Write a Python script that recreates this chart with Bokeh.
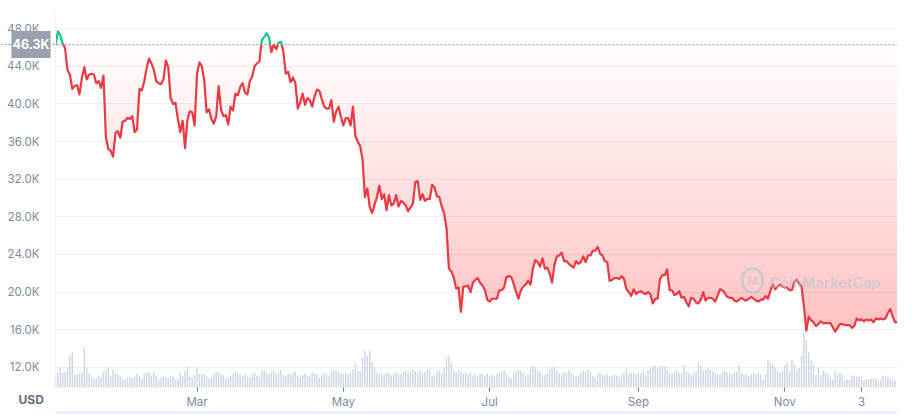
import numpy as np
import pandas as pd
from bokeh.plotting import figure
from bokeh.models import Range1d, FixedTicker, Span, Label, BoxAnnotation
from bokeh.embed import file_html
from bokeh.resources import INLINE

# ---------------- data ----------------
start_date = "2022-01-01"
open_price = 46.3  # K USD, first point = baseline
price_jan = [47.7, 47.3, 46.4, 45.9, 43.6, 43.1, 41.6, 41.9, 42.0, 41.0, 42.7, 43.9, 42.6, 43.1, 43.2, 43.1,
             42.2, 42.4, 41.7, 43.0, 36.5, 35.2, 35.0, 34.4, 36.9, 37.1, 36.4, 38.1, 38.2, 38.5, 38.4]
price_feb = [38.7, 37.0, 37.3, 41.6, 41.4, 42.4, 43.8, 44.8, 44.3, 43.6, 42.4, 42.2, 42.1, 42.6, 44.6, 43.9,
             40.6, 40.0, 40.1, 38.4, 37.0, 38.2, 35.3, 38.3, 39.2, 39.1, 37.7, 43.2]
price_mar = [44.4, 44.0, 42.5, 39.1, 39.4, 38.4, 37.9, 38.7, 41.9, 39.4, 38.7, 38.8, 37.8, 39.7, 39.3, 41.1,
             40.9, 41.8, 42.2, 41.2, 41.0, 42.4, 42.9, 44.0, 44.3, 44.5, 46.8, 47.1, 47.5, 47.1, 45.5]
price_apr = [46.3, 45.8, 46.5, 46.6, 45.5, 43.2, 43.4, 42.3, 42.8, 42.2, 39.5, 40.1, 41.1, 39.9, 40.6, 40.4,
             39.7, 40.8, 41.5, 41.4, 40.5, 39.7, 39.5, 39.5, 40.4, 38.1, 39.2, 39.7, 38.6, 37.7]
price_may = [38.5, 38.5, 37.7, 39.7, 36.6, 36.0, 35.5, 34.1, 30.1, 31.0, 29.0, 28.4, 29.3, 30.1, 31.3, 29.9,
             30.4, 28.7, 30.3, 29.2, 29.4, 30.3, 29.1, 29.7, 29.5, 29.2, 28.6, 29.0, 29.4, 31.7, 31.8]
price_jun = [29.8, 30.4, 29.7, 29.9, 29.9, 31.4, 31.1, 30.2, 30.1, 29.1, 28.4, 26.8, 22.5, 22.2, 21.6, 20.4,
             20.5, 17.9, 20.6, 20.6, 20.7, 20.0, 21.0, 21.3, 21.5, 21.0, 20.7, 20.2, 19.2, 19.0]
price_jul = [19.3, 19.3, 19.3, 20.2, 20.2, 20.5, 21.6, 21.7, 21.6, 20.9, 20.0, 19.3, 20.2, 20.6, 20.8, 21.2,
             20.8, 22.5, 23.4, 23.2, 22.7, 23.6, 22.5, 22.6, 22.0, 21.0, 22.9, 23.8, 23.9, 24.2, 23.3]
price_aug = [23.3, 23.0, 22.8, 22.6, 23.3, 23.0, 23.2, 23.8, 23.2, 23.9, 23.9, 24.4, 24.4, 24.8, 24.1, 23.9,
             23.3, 23.2, 21.2, 21.3, 21.5, 21.5, 21.4, 21.7, 21.4, 20.3, 20.0, 19.6, 20.3, 19.8, 20.0]
price_sep = [20.1, 19.9, 19.8, 20.0, 19.8, 18.8, 19.3, 19.3, 21.4, 21.8, 21.8, 22.4, 20.2, 20.2, 19.7, 19.8,
             20.1, 19.4, 19.5, 18.9, 18.5, 19.4, 19.3, 18.9, 18.8, 19.2, 20.0, 19.1, 19.4, 19.4]
price_oct = [19.3, 19.0, 19.6, 20.3, 20.2, 19.9, 19.5, 19.4, 19.4, 19.1, 19.0, 19.2, 19.4, 19.2, 19.1, 19.3,
             19.5, 19.3, 19.1, 19.0, 19.2, 19.2, 19.6, 19.3, 20.1, 20.8, 20.3, 20.6, 20.8, 20.6, 20.5]
price_nov = [20.5, 20.2, 20.2, 21.1, 21.3, 20.9, 20.6, 18.5, 15.9, 17.4, 17.0, 16.8, 16.4, 16.6, 16.9, 16.7,
             16.7, 16.7, 16.7, 16.3, 15.8, 16.2, 16.6, 16.6, 16.5, 16.5, 16.5, 16.2, 16.4, 17.2]
price_dec = [17.0, 17.1, 16.9, 17.1, 17.0, 17.1, 16.8, 17.2, 17.1, 17.2, 17.1, 17.2, 17.8, 18.2, 17.4, 16.8, 16.8]

# daily volume (billion USD)
vol_jan = [16, 15, 20, 15, 16, 20, 32, 35, 13, 13, 14, 15, 40, 20, 14, 10, 9, 9, 11, 11, 15, 18, 20, 12, 18, 14,
           13, 12, 9, 8, 10]
vol_feb = [10, 10, 11, 14, 12, 9, 14, 15, 15, 12, 16, 12, 8, 10, 12, 10, 10, 12, 11, 8, 9, 15, 12, 17, 21, 11,
           10, 12]
vol_mar = [20, 14, 13, 14, 11, 9, 11, 14, 16, 16, 13, 12, 8, 10, 12, 14, 16, 15, 13, 12, 14, 11, 10, 13, 15, 12,
           11, 16, 17, 15, 14]
vol_apr = [16, 17, 14, 15, 18, 13, 12, 14, 13, 15, 16, 12, 11, 13, 14, 12, 11, 15, 14, 13, 10, 12, 14, 13, 12, 16,
           17, 17, 16, 14]
vol_may = [14, 15, 14, 16, 18, 24, 17, 16, 30, 37, 32, 37, 26, 20, 15, 14, 14, 13, 15, 14, 12, 13, 15, 14, 13, 16,
           17, 15, 16, 18, 17]
vol_jun = [15, 17, 14, 16, 18, 18, 12, 11, 16, 17, 14, 20, 30, 32, 24, 17, 15, 18, 16, 14, 15, 13, 14, 12, 13, 11,
           14, 13, 12, 14]
vol_jul = [12, 13, 11, 14, 15, 16, 17, 14, 11, 10, 15, 16, 18, 17, 15, 12, 13, 19, 22, 20, 17, 16, 12, 13, 15, 18,
           21, 20, 17, 14, 13]
vol_aug = [16, 15, 17, 14, 13, 11, 12, 15, 17, 16, 18, 15, 12, 10, 13, 15, 13, 12, 13, 11, 12, 13, 12, 11, 13, 16,
           19, 14, 15, 16, 13]
vol_sep = [15, 14, 16, 13, 17, 20, 21, 22, 20, 21, 22, 21, 17, 15, 14, 16, 18, 15, 14, 23, 16, 15, 13, 14, 16, 24,
           22, 18, 17, 19]
vol_oct = [18, 17, 15, 14, 13, 16, 17, 15, 14, 13, 15, 16, 23, 15, 13, 14, 12, 13, 16, 14, 15, 13, 8, 13, 28, 24,
           23, 20, 16, 15, 17]
vol_nov = [22, 25, 17, 28, 23, 17, 20, 32, 55, 47, 35, 27, 23, 13, 20, 12, 17, 15, 13, 10, 8, 17, 13, 15, 13, 7,
           8, 8, 12, 12]
vol_dec = [11, 11, 11, 7, 8, 8, 9, 9, 9, 7, 8, 12, 11, 11, 9, 8, 7]

tick_dates = ["2022-03-01", "2022-05-01", "2022-07-01", "2022-09-01", "2022-11-01", "2022-12-03"]
tick_labels = ["Mar", "May", "Jul", "Sep", "Nov", "3"]
y_ticks = [12000, 16000, 20000, 24000, 28000, 32000, 36000, 40000, 44000, 48000]
y_tick_labels = ["12.0K", "16.0K", "20.0K", "24.0K", "28.0K", "32.0K", "36.0K", "40.0K", "44.0K", "48.0K"]
baseline_label = "46.3K"
unit_label = "USD"
watermark = "CoinMarketCap"

# ---------------- layout constants (pixels) ----------------
W, H = 912, 414           # figure size
FX0, FX1 = 55, 897        # data area left / right
FY0, FY1 = 13, 387        # data area top / bottom
PRICE_LO, PRICE_HI = 9870.0, 49600.0   # price at FY1 / FY0

# ---------------- assemble ----------------
closes = (price_jan + price_feb + price_mar + price_apr + price_may + price_jun + price_jul +
          price_aug + price_sep + price_oct + price_nov + price_dec)
prices = np.array([open_price] + closes) * 1000.0
dates = pd.date_range(start_date, periods=len(prices), freq="D")
xs = dates.values.astype("datetime64[ms]").astype("int64").astype(float)
base = open_price * 1000.0

vols = np.array(vol_jan + vol_feb + vol_mar + vol_apr + vol_may + vol_jun + vol_jul +
                vol_aug + vol_sep + vol_oct + vol_nov + vol_dec, dtype=float)
vdates = pd.date_range(start_date, periods=len(vols), freq="D")
vx = vdates.values.astype("datetime64[ms]").astype("int64").astype(float)

# insert baseline crossings so the colour change happens on the baseline
X, Y = [xs[0]], [prices[0]]
for i in range(1, len(prices)):
    y0, y1 = prices[i - 1], prices[i]
    if (y0 - base) * (y1 - base) < 0:
        t = (base - y0) / (y1 - y0)
        X.append(xs[i - 1] + t * (xs[i] - xs[i - 1]))
        Y.append(base)
    X.append(xs[i])
    Y.append(prices[i])
X = np.array(X)
Y = np.array(Y)
red_y = np.where(Y <= base, Y, np.nan)
green_y = np.where(Y >= base, Y, np.nan)

# ranges: the frame covers the whole canvas left of FX1 and below FY0
ms_per_px = (xs[-1] - xs[0]) / (FX1 - FX0)
x_start = xs[0] - FX0 * ms_per_px
usd_per_px = (PRICE_HI - PRICE_LO) / (FY1 - FY0)
y_start = PRICE_LO - (H - FY1) * usd_per_px

RED = "#ea3943"
GREEN = "#16c784"
GREY = "#808a9d"
FONT = "Inter"

p = figure(width=W, height=H, x_axis_type="datetime", output_backend="svg",
           toolbar_location=None, min_border_left=0, min_border_right=W - FX1,
           min_border_top=FY0, min_border_bottom=0,
           x_range=Range1d(x_start, xs[-1]), y_range=Range1d(y_start, PRICE_HI))
p.outline_line_color = None
p.background_fill_color = "white"
p.border_fill_color = "white"
p.extra_y_ranges = {"vol": Range1d(-(H - FY1), FY1 - FY0)}

# navigator strip at the bottom
p.add_layout(BoxAnnotation(left=xs[0], right=xs[-1], bottom=y_start, top=y_start + 3.5 * usd_per_px,
                           fill_color="#eef0fb", fill_alpha=1.0, line_color=None, level="underlay"))

# volume
p.vbar(x=vx, top=vols, width=0.6 * 86400000, bottom=0, y_range_name="vol",
       fill_color="#cfd6e4", line_color=None)

# gradient fill between price and baseline (nested translucent bands)
levels = np.arange(base, 15000, -500.0)
for hi in levels:
    p.varea(x=X, y1=np.minimum(Y, hi), y2=np.full_like(Y, hi), fill_color=RED, fill_alpha=0.0058)
p.varea(x=X, y1=np.full_like(Y, base), y2=np.maximum(Y, base), fill_color=GREEN, fill_alpha=0.08)

p.add_layout(Span(location=base, dimension="width", line_color="#8f96a3", line_dash="2 2",
                  line_width=1))

p.line(X, red_y, line_color=RED, line_width=2.2, line_join="round")
p.line(X, green_y, line_color=GREEN, line_width=2.2, line_join="round")

# grid (only across the data area)
p.xgrid.visible = False
p.ygrid.ticker = FixedTicker(ticks=y_ticks)
p.ygrid.grid_line_color = "#eff2f5"
if "cross_bounds" in p.ygrid[0].properties():
    p.ygrid.cross_bounds = (xs[0], xs[-1])
else:
    p.ygrid.visible = False
    p.segment(x0=[xs[0]] * len(y_ticks), x1=[xs[-1]] * len(y_ticks), y0=y_ticks, y1=y_ticks,
              line_color="#eff2f5", level="underlay")

# y axis, drawn at the first date
yax = p.yaxis[0]
yax.fixed_location = xs[0]
yax.bounds = (PRICE_LO, PRICE_HI)
yax.ticker = FixedTicker(ticks=y_ticks)
yax.major_label_overrides = {t: l for t, l in zip(y_ticks, y_tick_labels)}
yax.axis_line_color = "#eff2f5"
yax.major_tick_line_color = None
yax.minor_tick_line_color = None
yax.major_label_standoff = 10
yax.major_label_text_color = GREY
yax.major_label_text_font = FONT
yax.major_label_text_font_size = "11.5px"

# x axis, drawn at the volume baseline
tick_ms = [float(pd.Timestamp(d).value // 10**6) for d in tick_dates]
xax = p.xaxis[0]
xax.fixed_location = PRICE_LO
xax.bounds = (xs[0], xs[-1])
xax.ticker = FixedTicker(ticks=tick_ms)
xax.major_label_overrides = {t: l for t, l in zip(tick_ms, tick_labels)}
xax.axis_line_color = None
xax.major_tick_line_color = "#6b7385"
xax.major_tick_in = 0
xax.major_tick_out = 4
xax.minor_tick_line_color = None
xax.major_label_standoff = 3
xax.major_label_text_color = GREY
xax.major_label_text_font = FONT
xax.major_label_text_font_size = "11.5px"

# baseline price tag
p.add_layout(Label(x=30.5, y=base, x_units="screen", y_units="data", text=baseline_label,
                   text_align="center", text_baseline="middle", text_color="white",
                   text_font=FONT, text_font_style="bold", text_font_size="12.5px",
                   background_fill_color="#9aa1ad", padding=(1, 6)))

# unit label
p.add_layout(Label(x=18, y=H - 399, x_units="screen", y_units="screen", text=unit_label,
                   text_align="left", text_baseline="middle", text_color="#616e85",
                   text_font=FONT, text_font_style="bold", text_font_size="12px"))

# watermark
p.add_layout(Label(x=752, y=H - 280, x_units="screen", y_units="screen", text="M",
                   text_align="center", text_baseline="middle", text_color="#b8c2d4",
                   text_alpha=0.6, text_font=FONT, text_font_style="bold", text_font_size="11px",
                   border_line_color="#b8c2d4", border_line_alpha=0.6, border_line_width=3,
                   border_radius=12, padding=5))
p.add_layout(Label(x=769, y=H - 282, x_units="screen", y_units="screen", text=watermark,
                   text_align="left", text_baseline="middle", text_color="#b8c2d4",
                   text_alpha=0.55, text_font=FONT, text_font_style="bold", text_font_size="14.5px"))

open("out.html", "w").write(file_html(p, INLINE))
